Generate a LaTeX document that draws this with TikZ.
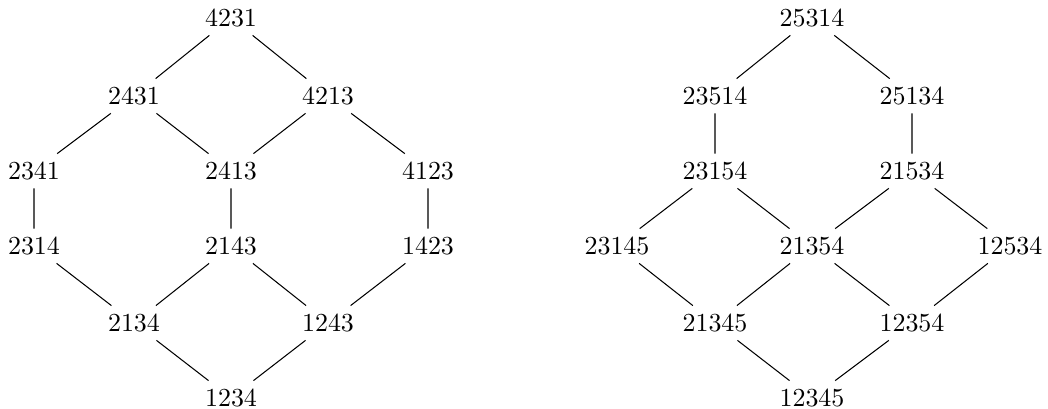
\documentclass[tikz,border=0pt]{standalone}
\begin{document}
\begin{tikzpicture}[x=0.385pt,y=-0.385pt, perm/.style={inner sep=3pt}, edge/.style={draw,line width=0.4pt}]
\useasboundingbox (0,0) rectangle (1048,409);
% left
\node[perm] (a1) at (231,18) {4231};
\node[perm] (a2) at (134,96) {2431};
\node[perm] (a3) at (328,96) {4213};
\node[perm] (a4) at (34,171) {2341};
\node[perm] (a5) at (231,171) {2413};
\node[perm] (a6) at (428,171) {4123};
\node[perm] (a7) at (34,246) {2314};
\node[perm] (a8) at (231,246) {2143};
\node[perm] (a9) at (428,246) {1423};
\node[perm] (a10) at (134,323) {2134};
\node[perm] (a11) at (328,323) {1243};
\node[perm] (a12) at (231,398) {1234};
\path[edge] (a1)--(a2) (a1)--(a3) (a2)--(a4) (a2)--(a5) (a3)--(a5) (a3)--(a6)
 (a4)--(a7) (a5)--(a8) (a6)--(a9) (a7)--(a10) (a8)--(a10) (a8)--(a11) (a9)--(a11)
 (a10)--(a12) (a11)--(a12);
% right
\node[perm] (b1) at (812,18) {25314};
\node[perm] (b2) at (715,96) {23514};
\node[perm] (b3) at (912,96) {25134};
\node[perm] (b4) at (715,171) {23154};
\node[perm] (b5) at (912,171) {21534};
\node[perm] (b6) at (617,246) {23145};
\node[perm] (b7) at (812,246) {21354};
\node[perm] (b8) at (1010,246) {12534};
\node[perm] (b9) at (715,323) {21345};
\node[perm] (b10) at (912,323) {12354};
\node[perm] (b11) at (812,398) {12345};
\path[edge] (b1)--(b2) (b1)--(b3) (b2)--(b4) (b3)--(b5) (b4)--(b6) (b4)--(b7)
 (b5)--(b7) (b5)--(b8) (b6)--(b9) (b7)--(b9) (b7)--(b10) (b8)--(b10)
 (b9)--(b11) (b10)--(b11);
\end{tikzpicture}
\end{document}
